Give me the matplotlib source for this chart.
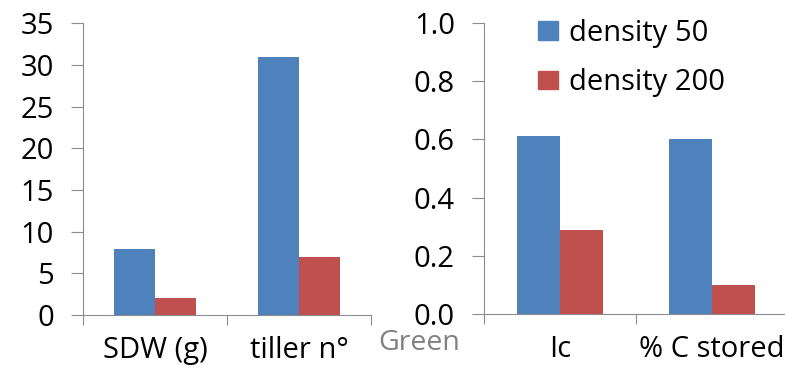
import numpy as np
import matplotlib.pyplot as plt
from matplotlib.patches import Patch

plt.rcParams['font.family'] = ['Open Sans', 'DejaVu Sans']

BLUE = '#4F81BD'
RED = '#C0504D'
GREY = '#8c8c8c'

# left panel
left_cats = ['SDW (g)', 'tiller n°']
left_d50 = [7.9, 31.0]
left_d200 = [2.1, 7.0]
left_ticks = [0, 5, 10, 15, 20, 25, 30, 35]

# right panel
right_cats = ['Ic', '% C stored']
right_d50 = [0.61, 0.60]
right_d200 = [0.29, 0.10]
right_ticks = [0.0, 0.2, 0.4, 0.6, 0.8, 1.0]

series_names = ['density 50', 'density 200']

fig = plt.figure(figsize=(7.85, 3.8), dpi=100)
ax1 = fig.add_axes([0.1057, 0.171, 0.3669, 0.768])
ax2 = fig.add_axes([0.6166, 0.1737, 0.3873, 0.766])

bw = 0.285
FS = 21


def style(ax, cats, d50, d200, ticks, fmt):
    x = np.arange(len(cats))
    ax.bar(x - bw / 2, d50, bw, color=BLUE)
    ax.bar(x + bw / 2, d200, bw, color=RED)
    ax.set_xlim(-0.5, len(cats) - 0.5)
    ax.set_ylim(ticks[0], ticks[-1])
    ax.set_yticks(ticks)
    ax.set_yticklabels([fmt.format(t) for t in ticks])
    ax.set_xticks(np.arange(len(cats) + 1) - 0.5)
    ax.set_xticklabels([])
    ax.set_xticks(x, minor=True)
    ax.set_xticklabels(cats, minor=True)
    for s in ['top', 'right']:
        ax.spines[s].set_visible(False)
    for s in ['left', 'bottom']:
        ax.spines[s].set_color(GREY)
    ax.tick_params(axis='y', direction='out', length=9, color=GREY,
                   labelsize=FS, pad=12)
    ax.tick_params(axis='x', which='major', direction='out', length=7.5,
                   color=GREY)
    ax.tick_params(axis='x', which='minor', length=0, labelsize=FS, pad=15)


style(ax1, left_cats, left_d50, left_d200, left_ticks, '{:g}')
style(ax2, right_cats, right_d50, right_d200, right_ticks, '{:.1f}')

handles = [Patch(color=BLUE), Patch(color=RED)]
fig.legend(handles, series_names, loc='upper left',
           bbox_to_anchor=(0.678, 0.966), frameon=False, fontsize=FS,
           handlelength=0.7, handleheight=0.6, handletextpad=0.35,
           labelspacing=0.7, borderpad=0.2, borderaxespad=0)

fig.text(0.534, 0.097, 'Green', color='#808080', fontsize=20.5,
         ha='center', va='center')

fig.savefig('out.png', dpi=100)
